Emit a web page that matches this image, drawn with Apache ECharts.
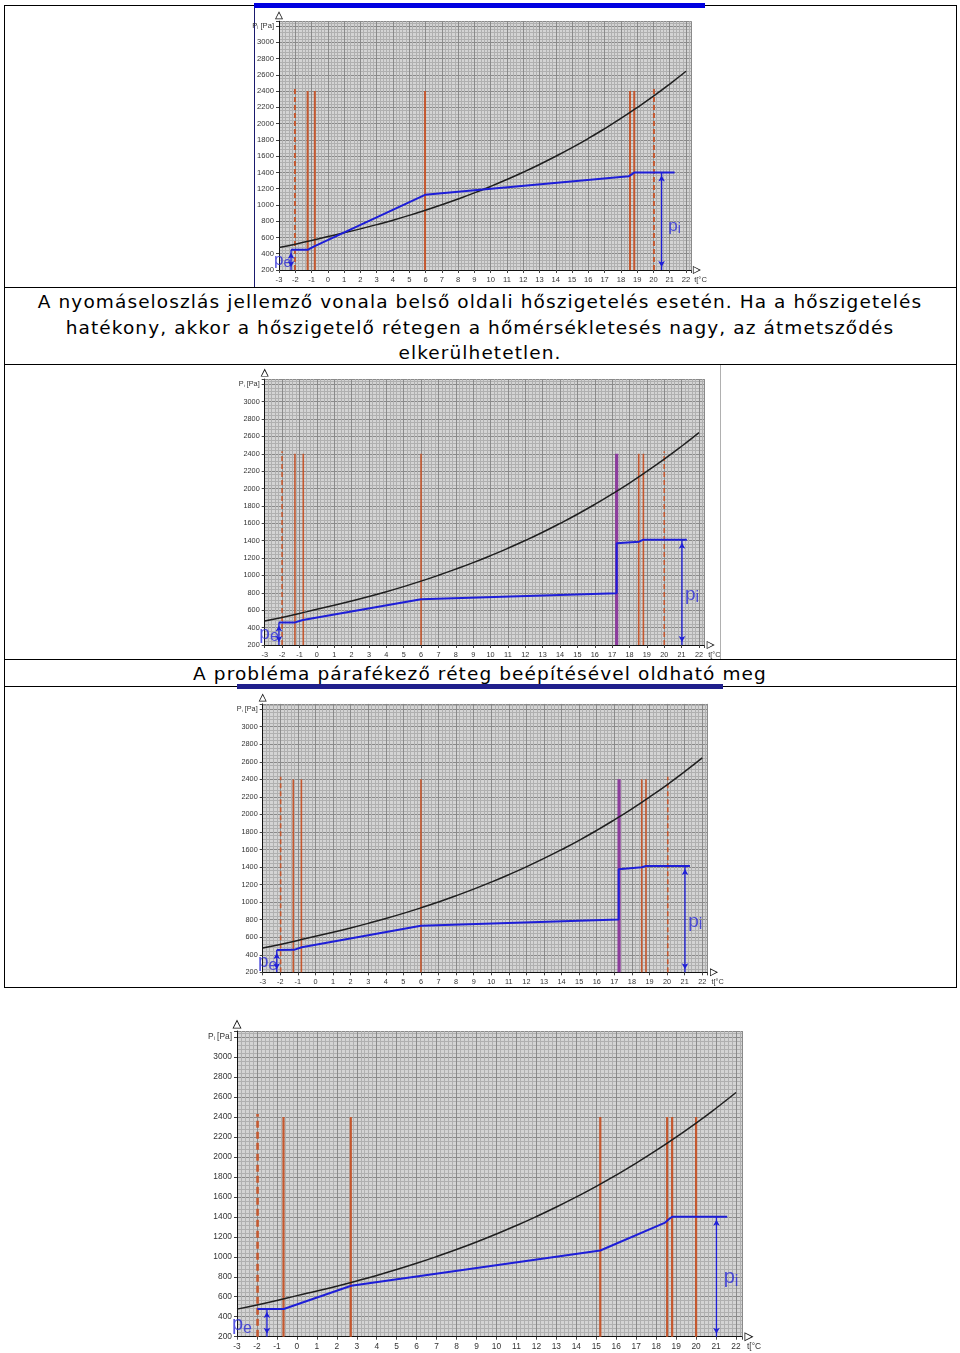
<!DOCTYPE html>
<html><head><meta charset="utf-8">
<script src="https://cdn.jsdelivr.net/npm/echarts@6/dist/echarts.min.js"></script>
<style>
html,body{margin:0;padding:0;background:#fff;}
#page{position:relative;width:960px;height:1353px;overflow:hidden;background:#fff;}
.ln{position:absolute;background:#000;}
.cap{position:absolute;left:4px;width:952px;text-align:center;font-family:"DejaVu Sans",sans-serif;font-size:18.5px;letter-spacing:1.1px;line-height:25.5px;color:#000;white-space:nowrap;}
#chart{position:absolute;left:0;top:0;width:960px;height:1353px;}
</style></head>
<body><div id="page">
<div class="ln" style="left:4px;top:5px;width:953px;height:1px;"></div>
<div class="ln" style="left:4px;top:5px;width:1px;height:983px;"></div>
<div class="ln" style="left:956px;top:5px;width:1px;height:983px;"></div>
<div class="ln" style="left:4px;top:287px;width:953px;height:1px;"></div>
<div class="ln" style="left:4px;top:364px;width:953px;height:1px;"></div>
<div class="ln" style="left:4px;top:659px;width:953px;height:1px;"></div>
<div class="ln" style="left:4px;top:686px;width:953px;height:1px;"></div>
<div class="ln" style="left:4px;top:987px;width:953px;height:1px;"></div>
<div class="ln" style="left:254px;top:5px;width:1px;height:282px;background:#1a1a6e;"></div>
<div class="ln" style="left:254px;top:3px;width:451px;height:5px;background:#0000e0;"></div>
<div class="ln" style="left:720px;top:365px;width:1px;height:294px;background:#b0b0b0;"></div>
<div class="ln" style="left:237px;top:684px;width:486px;height:5px;background:#20208c;"></div>
<div class="cap" style="top:289px;">A nyomáseloszlás jellemző vonala belső oldali hőszigetelés esetén. Ha a hőszigetelés<br>hatékony, akkor a hőszigetelő rétegen a hőmérsékletesés nagy, az átmetsződés<br>elkerülhetetlen.</div>
<div class="cap" style="top:661px;">A probléma párafékező réteg beépítésével oldható meg</div>
<div id="chart"></div>
</div>
<script>
// ---- shared data ----
const satTemps = [-3,-2,-1,0,1,2,3,4,5,6,7,8,9,10,11,12,13,14,15,16,17,18,19,20,21,22];
const satPressure = [476,517,562,611,657,706,758,813,872,935,1002,1073,1148,1228,1313,1403,1498,1599,1705,1818,1938,2064,2198,2338,2487,2644];
const xLabelMin = -3, xLabelMax = 22;
const yLabelMax = 3000, yNameTick = 3200;
const xAxisName = 't[°C';
const yAxisNameMain = 'P', yAxisNameSub = 'i', yAxisNameUnit = ' [Pa]';
const interfaceTop = 2400, surfaceTop = 2430, baseP = 200;

// ---- chart 1 ----
const c1Blue = [[-2.26,448],[-1.24,448],[-0.87,488],[5.97,1125],[18.48,1352],[18.82,1398],[21.3,1398]];
const c1Surface = [-2.02, 20.03];
const c1Interfaces = [-1.24, -0.8, 5.97, 18.56, 18.82];
const c1Barrier = [];
const c1Pe = [-2.26, 448], c1Pi = [20.5, 1398];
const c1PeLabel = [-2.78, 325], c1PiLabel = [21.3, 741];

// ---- chart 2 ----
const c2Blue = [[-2.18,458],[-1.25,460],[-0.8,487],[6,726],[17.26,796],[17.26,1370],[18.55,1389],[18.8,1412],[21.3,1412]];
const c2Surface = [-2, 20];
const c2Interfaces = [-1.26, -0.78, 6, 18.53, 18.8];
const c2Barrier = [17.26];
const c2Pe = [-2.18, 458], c2Pi = [21.02, 1412];
const c2PeLabel = [-2.75, 335], c2PiLabel = [21.6, 783];

// ---- chart 3 ----
const c3Blue = [[-2.2,454],[-1.22,456],[-0.78,485],[6,731],[17.25,802],[17.25,1374],[18.56,1397],[18.8,1412],[21.3,1412]];
const c3Surface = [-1.98, 20.04];
const c3Interfaces = [-1.26, -0.8, 6, 18.56, 18.8];
const c3Barrier = [17.27];
const c3Pe = [-2.2, 454], c3Pi = [21.02, 1412];
const c3PeLabel = [-2.72, 321], c3PiLabel = [21.6, 780];

// ---- chart 4 ----
const c4Blue = [[-1.98,477],[-0.66,477],[2.72,710],[15.2,1063],[18.45,1342],[18.65,1378],[18.8,1400],[21.56,1400]];
const c4Surface = [-1.97];
const c4Interfaces = [-0.67, 2.7, 15.2, 18.55, 18.8, 20];
const c4Barrier = [];
const c4Pe = [-1.5, 477], c4Pi = [21.02, 1400];
const c4PeLabel = [-2.75, 326], c4PiLabel = [21.75, 794];

const charts = [
  {blue:c1Blue, surface:c1Surface, interfaces:c1Interfaces, barrier:c1Barrier, pe:c1Pe, pi:c1Pi, peL:c1PeLabel, piL:c1PiLabel},
  {blue:c2Blue, surface:c2Surface, interfaces:c2Interfaces, barrier:c2Barrier, pe:c2Pe, pi:c2Pi, peL:c2PeLabel, piL:c2PiLabel},
  {blue:c3Blue, surface:c3Surface, interfaces:c3Interfaces, barrier:c3Barrier, pe:c3Pe, pi:c3Pi, peL:c3PeLabel, piL:c3PiLabel},
  {blue:c4Blue, surface:c4Surface, interfaces:c4Interfaces, barrier:c4Barrier, pe:c4Pe, pi:c4Pi, peL:c4PeLabel, piL:c4PiLabel}
];

// layout (pixels) & styles
const layouts = [
  {left:279, top:21.2, w:411.9, h:248.8, fs:7.6, pf:17, rw:2, bw:2, aw:8, al:12},
  {left:264.7, top:379.1, w:439.5, h:265.9, fs:7.3, pf:19, rw:1.6, bw:2, aw:8, al:13},
  {left:262.7, top:703.9, w:444.8, h:268.4, fs:7.3, pf:19, rw:1.6, bw:2, aw:8, al:13},
  {left:237, top:1031, w:505, h:305.7, fs:8.4, pf:20, rw:2.2, bw:2, aw:9, al:14}
];
const xMax = 22.3, yMax = 3260;
const hollowArrow = 'path://M0,0 L10,20 L-10,20 Z M0,4.5 L-7.2,18.3 L7.2,18.3 Z';
const BLUE = '#1e1ed8', RED = '#c4582f', PURPLE = '#8c3c9c', LBLUE = '#2a2ad8';

const option = {animation:false, grid:[], xAxis:[], yAxis:[], series:[]};

charts.forEach((c, i) => {
  const L = layouts[i];
  option.grid.push({left:L.left, top:L.top, width:L.w, height:L.h, show:true, backgroundColor:'#d4d4d4', borderWidth:0});
  option.xAxis.push({
    type:'value', gridIndex:i, min:-3, max:xMax, interval:1,
    axisLine:{show:true, onZero:false, lineStyle:{color:'#111', width:1}, symbol:['none', hollowArrow], symbolSize:[L.aw, L.al], symbolOffset:[0, L.al/2]},
    axisTick:{show:true, length:3, lineStyle:{color:'#444'}},
    axisLabel:{fontSize:L.fs, color:'#333', margin:6, fontFamily:'Liberation Sans',
      formatter: v => (Number.isInteger(v) && v >= xLabelMin && v <= xLabelMax) ? String(v) : ''},
    splitLine:{show:true, lineStyle:{color:'#8a8a8a', width:1}},
    minorTick:{show:false, splitNumber:5},
    minorSplitLine:{show:true, lineStyle:{color:'#b0b0b0', width:1}},
    name:xAxisName, nameLocation:'end', nameGap:L.al-9,
    nameTextStyle:{fontSize:L.fs, color:'#333', fontFamily:'Liberation Sans', verticalAlign:'top', align:'left', padding:[6,0,0,0]}
  });
  option.yAxis.push({
    type:'value', gridIndex:i, min:baseP, max:yMax, interval:200,
    axisLine:{show:true, onZero:false, lineStyle:{color:'#111', width:1}, symbol:['none', hollowArrow], symbolSize:[L.aw, L.al], symbolOffset:[0, L.al/2]},
    axisTick:{show:true, length:3, lineStyle:{color:'#444'}},
    axisLabel:{fontSize:L.fs, color:'#333', margin:5, fontFamily:'Liberation Sans',
      formatter: v => v === yNameTick ? '{a|' + yAxisNameMain + '}{s|' + yAxisNameSub + '}{a|' + yAxisNameUnit + '}' : ((v <= yLabelMax && v % 200 === 0) ? String(v) : ''),
      rich:{a:{fontSize:L.fs, color:'#333', fontFamily:'Liberation Sans'}, s:{fontSize:L.fs*0.6, color:'#333', verticalAlign:'bottom'}}},
    splitLine:{show:true, lineStyle:{color:'#8a8a8a', width:1}},
    minorTick:{show:false, splitNumber:5},
    minorSplitLine:{show:true, lineStyle:{color:'#b0b0b0', width:1}}
  });
  const base = {xAxisIndex:i, yAxisIndex:i, type:'line', showSymbol:false, silent:true};
  c.interfaces.forEach(t => option.series.push(Object.assign({}, base, {
    data:[[t, baseP],[t, interfaceTop]], lineStyle:{color:RED, width:L.rw}})));
  c.surface.forEach(t => option.series.push(Object.assign({}, base, {
    data:[[t, baseP],[t, surfaceTop]], lineStyle:{color:RED, width:i===3?2.6:L.rw, type:i===3?[7,4]:[5,3]}})));
  c.barrier.forEach(t => option.series.push(Object.assign({}, base, {
    data:[[t, baseP],[t, interfaceTop]], lineStyle:{color:PURPLE, width:3.2}})));
  option.series.push(Object.assign({}, base, {
    data: satTemps.map((t, k) => [t, satPressure[k]]), smooth:true, lineStyle:{color:'#1f1f1f', width:1.5}}));
  option.series.push(Object.assign({}, base, {data:c.blue, lineStyle:{color:BLUE, width:L.bw}}));
  [c.pe, c.pi].forEach(p => option.series.push(Object.assign({}, base, {
    showSymbol:true, symbol:'arrow', symbolSize:[5,6], itemStyle:{color:BLUE},
    lineStyle:{color:BLUE, width:1.3},
    data:[{value:[p[0], baseP], symbolRotate:180, symbolOffset:[0,-3]}, {value:[p[0], p[1]], symbolRotate:0, symbolOffset:[0,3]}]})));
  const rich = {p:{fontSize:L.pf, color:LBLUE, fontFamily:'Liberation Sans', lineHeight:L.pf+4}, s:{fontSize:Math.round(L.pf*0.82), color:LBLUE, fontFamily:'Liberation Sans', verticalAlign:'bottom', lineHeight:L.pf+4}};
  option.series.push({type:'scatter', xAxisIndex:i, yAxisIndex:i, silent:true, symbolSize:1,
    itemStyle:{color:'rgba(0,0,0,0)'},
    label:{show:true, position:'inside', rich:rich, formatter: p => '{p|p}{s|' + p.data.sub + '}'},
    data:[{value:c.peL, sub:'e'}, {value:c.piL, sub:'i'}]});
});

const chart = echarts.init(document.getElementById('chart'), null, {renderer:'canvas'});
chart.setOption(option);
</script>
</body></html>
